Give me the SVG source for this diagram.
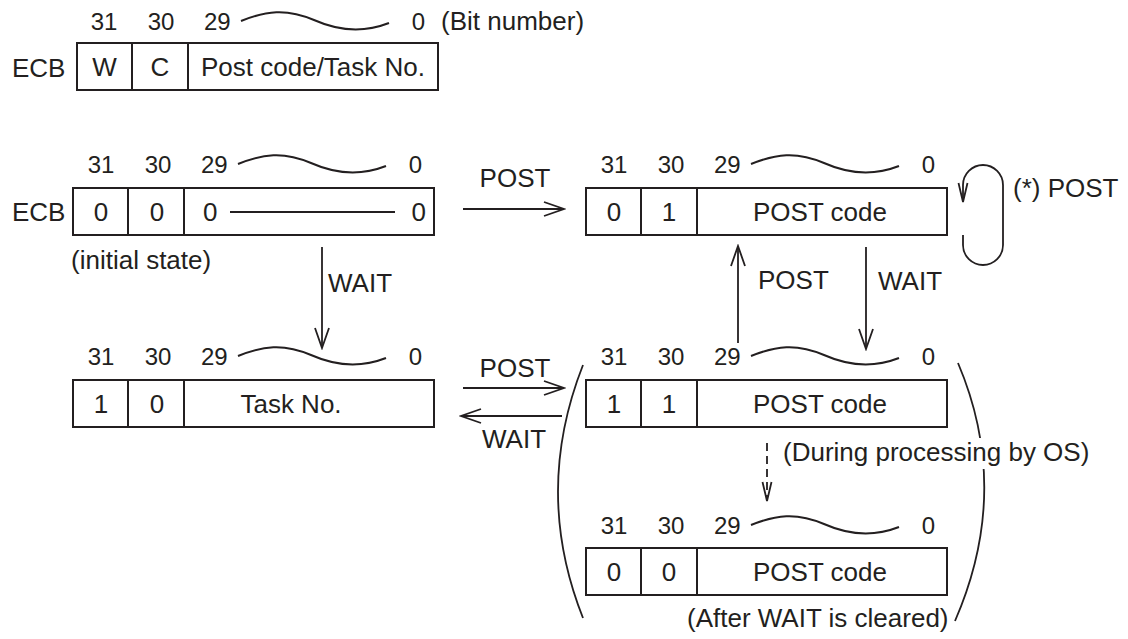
<svg xmlns="http://www.w3.org/2000/svg" xmlns:xlink="http://www.w3.org/1999/xlink" width="1128" height="639" viewBox="0 0 1128 639">
  <style>
    text { font-family: "Liberation Sans", Arial, sans-serif; font-size: 26px; fill: #231f20; }
    .bit { font-size: 24px; }
    .mid { text-anchor: middle; }
    .end { text-anchor: end; }
    .box { fill: none; stroke: #231f20; stroke-width: 2; }
    .ln { fill: none; stroke: #231f20; stroke-width: 1.8; }
    .wave { fill: none; stroke: #231f20; stroke-width: 2; }
    .dash { stroke-dasharray: 8 5; }
  </style>
  <defs>
    <!-- open V arrowhead -->
    <marker id="arrow" viewBox="-22 -9 24 18" refX="0" refY="0" markerWidth="24" markerHeight="18" markerUnits="userSpaceOnUse" orient="auto">
      <path d="M-20,-7 L0,0 L-20,7" fill="none" stroke="#231f20" stroke-width="1.8"/>
    </marker>
    <marker id="arrowNarrow" viewBox="-21 -7 23 14" refX="0" refY="0" markerWidth="23" markerHeight="14" markerUnits="userSpaceOnUse" orient="auto">
      <path d="M-19,-4.5 L0,0 L-19,4.5" fill="none" stroke="#231f20" stroke-width="1.8"/>
    </marker>
    <!-- tilde between bit 29 and bit 0 -->
    <path id="wave" class="wave" d="M0,-9 C25,-19 45,-22 73,-10 C100,2 125,2 148,-7"/>
    <!-- register cell frame: W | C | 30 bits -->
    <g id="cells">
      <rect class="box" x="0" y="0" width="361" height="47"/>
      <line class="box" x1="55" y1="0" x2="55" y2="47"/>
      <line class="box" x1="111" y1="0" x2="111" y2="47"/>
    </g>
    <!-- bit numbering above a register -->
    <g id="bits">
      <text class="bit mid" x="28" y="0">31</text>
      <text class="bit mid" x="85" y="0">30</text>
      <text class="bit" x="128" y="0">29</text>
      <use xlink:href="#wave" x="165" y="0"/>
      <text class="bit end" x="349" y="0">0</text>
    </g>
    <mask id="gapRight">
      <rect x="0" y="0" width="1128" height="639" fill="#fff"/>
      <rect x="960" y="438" width="50" height="31" fill="#000"/>
    </mask>
  </defs>

  <!-- legend: field layout of the ECB -->
  <g id="legend">
    <use xlink:href="#bits" x="76" y="30"/>
    <text x="441" y="30">(Bit number)</text>
    <text x="12" y="77">ECB</text>
    <use xlink:href="#cells" x="77" y="43"/>
    <text class="mid" x="104.5" y="76">W</text>
    <text class="mid" x="160" y="76">C</text>
    <text class="mid" x="313" y="76">Post code/Task No.</text>
  </g>

  <!-- initial state -->
  <g id="state-initial">
    <use xlink:href="#bits" x="73" y="173"/>
    <text x="12" y="221">ECB</text>
    <use xlink:href="#cells" x="73" y="188"/>
    <text class="mid" x="101" y="221">0</text>
    <text class="mid" x="157" y="221">0</text>
    <text x="203" y="221">0</text>
    <line class="ln" x1="230" y1="212" x2="395" y2="212"/>
    <text class="end" x="426" y="221">0</text>
    <text x="71" y="269">(initial state)</text>
  </g>

  <!-- posted, no waiting task -->
  <g id="state-posted">
    <use xlink:href="#bits" x="586" y="173"/>
    <use xlink:href="#cells" x="586" y="188"/>
    <text class="mid" x="614" y="221">0</text>
    <text class="mid" x="669" y="221">1</text>
    <text class="mid" x="820" y="221">POST code</text>
  </g>

  <!-- task waiting -->
  <g id="state-waiting">
    <use xlink:href="#bits" x="73" y="365"/>
    <use xlink:href="#cells" x="73" y="380"/>
    <text class="mid" x="101" y="413">1</text>
    <text class="mid" x="157" y="413">0</text>
    <text class="mid" x="291" y="413">Task No.</text>
  </g>

  <!-- posted while a task waits -->
  <g id="state-processing">
    <use xlink:href="#bits" x="586" y="365"/>
    <use xlink:href="#cells" x="586" y="380"/>
    <text class="mid" x="614" y="413">1</text>
    <text class="mid" x="669" y="413">1</text>
    <text class="mid" x="820" y="413">POST code</text>
  </g>

  <!-- wait released -->
  <g id="state-cleared">
    <use xlink:href="#bits" x="586" y="534"/>
    <use xlink:href="#cells" x="586" y="548"/>
    <text class="mid" x="614" y="581">0</text>
    <text class="mid" x="669" y="581">0</text>
    <text class="mid" x="820" y="581">POST code</text>
    <text x="687" y="627">(After WAIT is cleared)</text>
  </g>

  <!-- transitions -->
  <g id="connectors">
    <line class="ln" x1="463" y1="209" x2="564" y2="209" marker-end="url(#arrow)"/>
    <text class="mid" x="515" y="187">POST</text>

    <line class="ln" x1="322" y1="247" x2="322" y2="348" marker-end="url(#arrow)"/>
    <text x="328" y="292">WAIT</text>

    <line class="ln" x1="738" y1="343" x2="738" y2="246" marker-end="url(#arrow)"/>
    <text x="758" y="289">POST</text>

    <line class="ln" x1="866" y1="247" x2="866" y2="349" marker-end="url(#arrow)"/>
    <text x="878" y="290">WAIT</text>

    <!-- repeated POST keeps the state -->
    <path class="ln" d="M963,235 L963,245 A20,20 0 0 0 1003,245 L1003,185 A20,20 0 0 0 963,185 L963,202" marker-end="url(#arrowNarrow)"/>
    <text x="1013" y="197">(*) POST</text>

    <line class="ln" x1="463" y1="388" x2="564" y2="388" marker-end="url(#arrow)"/>
    <text class="mid" x="515" y="377">POST</text>
    <line class="ln" x1="562" y1="416" x2="461" y2="416" marker-end="url(#arrow)"/>
    <text class="mid" x="514" y="448">WAIT</text>

    <line class="ln dash" x1="767" y1="443" x2="767" y2="501" marker-end="url(#arrowNarrow)"/>
    <text x="783" y="461">(During processing by OS)</text>

    <!-- brackets grouping the two internal states -->
    <path class="ln" d="M583,365 Q533,492 583,618"/>
    <path class="ln" d="M958,363 Q1012,490 955,621" mask="url(#gapRight)"/>
  </g>
</svg>
